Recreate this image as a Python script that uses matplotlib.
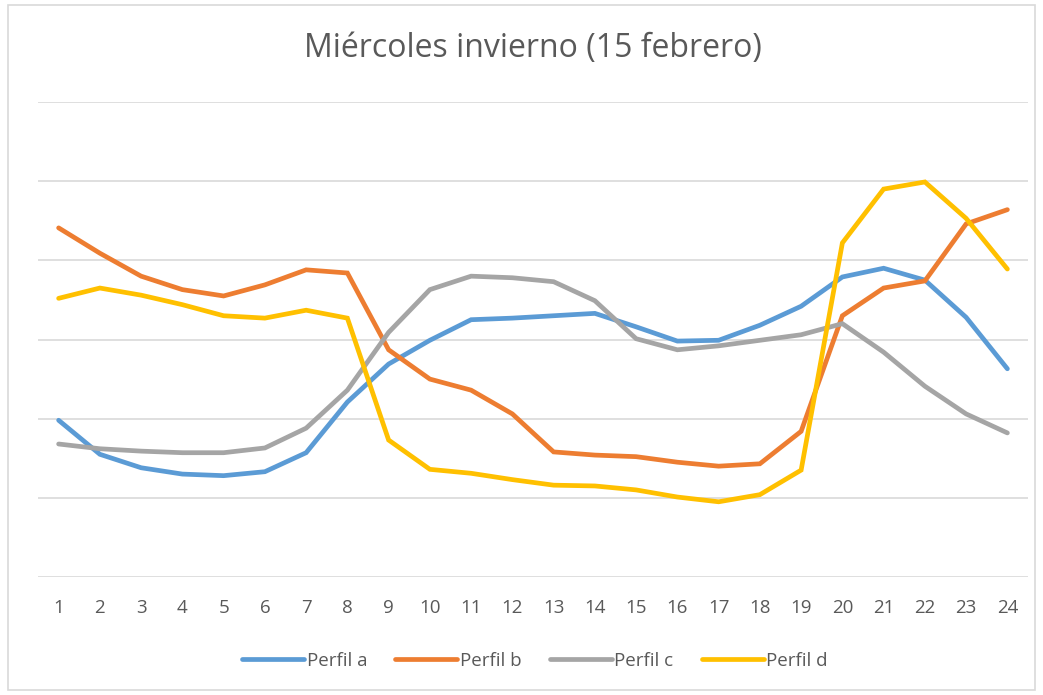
import matplotlib
matplotlib.use('Agg')
import matplotlib.pyplot as plt
from matplotlib.patches import Rectangle

horas = list(range(1, 25))
perfil_a = [1.98, 1.55, 1.38, 1.30, 1.28, 1.33, 1.57, 2.21, 2.69, 2.99, 3.25, 3.27,
            3.30, 3.33, 3.16, 2.98, 2.99, 3.18, 3.42, 3.79, 3.90, 3.75, 3.28, 2.63]
perfil_b = [4.41, 4.09, 3.80, 3.63, 3.55, 3.69, 3.88, 3.84, 2.87, 2.50, 2.36, 2.06,
            1.58, 1.54, 1.52, 1.45, 1.40, 1.43, 1.84, 3.30, 3.65, 3.74, 4.46, 4.64]
perfil_c = [1.68, 1.62, 1.59, 1.57, 1.57, 1.63, 1.88, 2.36, 3.09, 3.63, 3.80, 3.78,
            3.73, 3.49, 3.01, 2.87, 2.92, 2.99, 3.06, 3.20, 2.84, 2.41, 2.06, 1.82]
perfil_d = [3.52, 3.65, 3.56, 3.44, 3.30, 3.27, 3.37, 3.27, 1.73, 1.36, 1.31, 1.23,
            1.16, 1.15, 1.10, 1.01, 0.95, 1.04, 1.35, 4.22, 4.90, 4.99, 4.53, 3.89]

series = [("Perfil a", perfil_a, "#5B9BD5"),
          ("Perfil b", perfil_b, "#ED7D31"),
          ("Perfil c", perfil_c, "#A5A5A5"),
          ("Perfil d", perfil_d, "#FFC000")]

plt.rcParams['font.family'] = ['Open Sans', 'DejaVu Sans']
txt = '#595959'

fig = plt.figure(figsize=(10.43, 6.95), dpi=100)
ax = fig.add_axes([38/1043, 118/695, 990/1043, 475/695])

for name, vals, col in series:
    ax.plot(horas, vals, color=col, lw=3.4, label=name, solid_capstyle='round',
            solid_joinstyle='miter')

ax.set_xlim(0.5, 24.5)
ax.set_ylim(0, 6)
ax.set_yticks(range(0, 7))
ax.set_yticklabels([])
ax.set_xticks(horas)
ax.tick_params(axis='x', length=0, pad=16, labelsize=13.5, labelcolor=txt)
ax.tick_params(axis='y', length=0)
ax.grid(axis='y', color='#D9D9D9', lw=1.2)
ax.set_axisbelow(True)
for s in ax.spines.values():
    s.set_visible(False)

fig.text(533/1043, 1 - 48/695, "Miércoles invierno (15 febrero)", ha='center', va='center',
         fontsize=23, color=txt)

fig.legend(loc='center', bbox_to_anchor=(535/1043, 1 - 661/695), ncol=4, frameon=False,
           fontsize=13.5, labelcolor=txt, handlelength=3.3, handletextpad=0.15,
           columnspacing=1.5)

fig.patches.append(Rectangle((8/1043, 5/695), 1027/1043, 685/695, transform=fig.transFigure,
                             fill=False, edgecolor='#D9D9D9', lw=1.2))

fig.savefig('out.png', dpi=100)
